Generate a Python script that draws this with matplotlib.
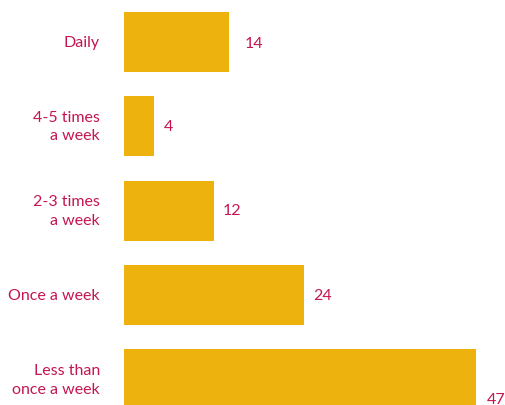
import matplotlib
matplotlib.use("Agg")
import matplotlib.pyplot as plt

# Frequency categories and their shares
categories = ["Daily", "4-5 times\na week", "2-3 times\na week", "Once a week", "Less than\nonce a week"]
values = [14, 4, 12, 24, 47]

BAR = "#EDB20E"
TEXT = "#C4174F"
plt.rcParams["font.family"] = ["Lato", "DejaVu Sans"]

W, H, DPI = 506, 406, 100
fig = plt.figure(figsize=(W / DPI, H / DPI), dpi=DPI)

left_px = 124
px_per_unit = 7.5
ax = fig.add_axes([left_px / W, 0, 1 - left_px / W, 1])
ax.set_xlim(0, (W - left_px) / px_per_unit)
step = 84.5
first_center = 42.5
ax.set_ylim(4 + (H - (first_center + 4 * step)) / step, -first_center / step)

pos = list(range(len(categories)))
ax.barh(pos, values, height=60 / step, color=BAR, linewidth=0)

# value labels: horizontal pad (px) and vertical shift (px) after each bar end
label_pad = [16, 10, 9, 9, 10]
label_drop = [2, 0, 0, 0, 20]
for y, v, dx, dy in zip(pos, values, label_pad, label_drop):
    ax.annotate(str(v), (v, y), xytext=(dx * 0.72, -dy * 0.72), textcoords="offset points",
                ha="left", va="center", color=TEXT, fontsize=11.5, annotation_clip=False)

for y, c in zip(pos, categories):
    ax.annotate(c, (0, y), xytext=(-24 * 0.72, 0), textcoords="offset points",
                ha="right", va="center", color=TEXT, fontsize=11.5, linespacing=1.4,
                annotation_clip=False)

ax.axis("off")
fig.savefig("out.png", dpi=DPI)
